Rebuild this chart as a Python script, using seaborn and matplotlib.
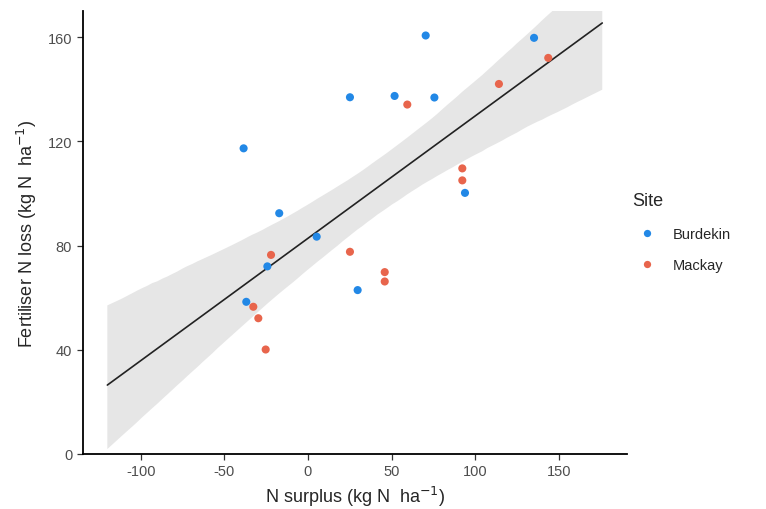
#!/usr/bin/env python3
# fertiliser N loss vs N surplus, by site

import numpy as np
import pandas as pd
import matplotlib
matplotlib.use("Agg")
import matplotlib.pyplot as plt
import seaborn as sns

# 1) Data
burdekin_surplus = [-38.5, 25.1, -17.2, 5.2, 70.4, 135.2, 51.8, 75.6, 93.9, -24.3, -36.9, 29.7]
burdekin_loss    = [117.3, 136.9, 92.4, 83.4, 160.6, 159.7, 137.4, 136.8, 100.2, 72.0, 58.4, 62.9]

mackay_surplus = [143.7, 114.2, 59.4, 92.3, 92.3, -22.1, -32.7, -29.7, -25.3, 25.1, 45.9, 45.9]
mackay_loss    = [152.0, 142.0, 134.1, 109.6, 105.0, 76.4, 56.5, 52.1, 40.1, 77.6, 69.8, 66.2]

sites = ["Burdekin", "Mackay"]
site_colors = ["#2288e6", "#e8654c"]

x_ticks = [-100, -50, 0, 50, 100, 150]
y_ticks = [0, 40, 80, 120, 160]

df = pd.DataFrame({
    "surplus": burdekin_surplus + mackay_surplus,
    "loss": burdekin_loss + mackay_loss,
    "Site": [sites[0]] * len(burdekin_surplus) + [sites[1]] * len(mackay_surplus),
})

# 2) Figure
sns.set_style("ticks")
plt.rcParams["font.family"] = ["Liberation Sans", "DejaVu Sans"]
plt.rcParams["axes.unicode_minus"] = False

fig = plt.figure(figsize=(7.66, 5.10), dpi=100)
ax = fig.add_axes([82.6 / 766, 55 / 510, (627 - 82.6) / 766, (455 - 12) / 510])

# regression drawn over the fit range -120..176
ax.set_xlim(-120, 176)
sns.regplot(
    data=df, x="surplus", y="loss", ax=ax, scatter=False, truncate=False,
    color="black", ci=95, n_boot=4000, seed=3,
    line_kws={"color": "#222222", "lw": 1.2},
)
for coll in ax.collections:
    coll.set_facecolor("#d9d9d9")
    coll.set_alpha(0.65)
    coll.set_edgecolor("none")

sns.scatterplot(
    data=df, x="surplus", y="loss", hue="Site", hue_order=sites,
    palette=site_colors, s=34, edgecolor="none", ax=ax, zorder=3,
)

ax.set_xlim(-134.8, 190.8)
ax.set_ylim(0, 170)
ax.set_xticks(x_ticks)
ax.set_yticks(y_ticks)
ax.tick_params(axis="both", labelsize=10.5, labelcolor="#4d4d4d", length=4, width=0.9, color="#333333")
for side in ["left", "bottom"]:
    ax.spines[side].set_linewidth(1.3)
    ax.spines[side].set_color("black")
sns.despine(ax=ax)

ax.set_xlabel(r"N surplus (kg N  ha$^{-1}$)", fontsize=13, labelpad=4)
ax.set_ylabel(r"Fertiliser N loss (kg N  ha$^{-1}$)", fontsize=13, labelpad=6)

leg = ax.legend(
    title="Site", loc="center left", bbox_to_anchor=(0.985, 0.50), frameon=False,
    fontsize=10.5, title_fontsize=13, handletextpad=0.8, labelspacing=1.2,
    markerscale=0.9,
)
leg._legend_box.align = "left"

fig.savefig("out.png", dpi=100)
